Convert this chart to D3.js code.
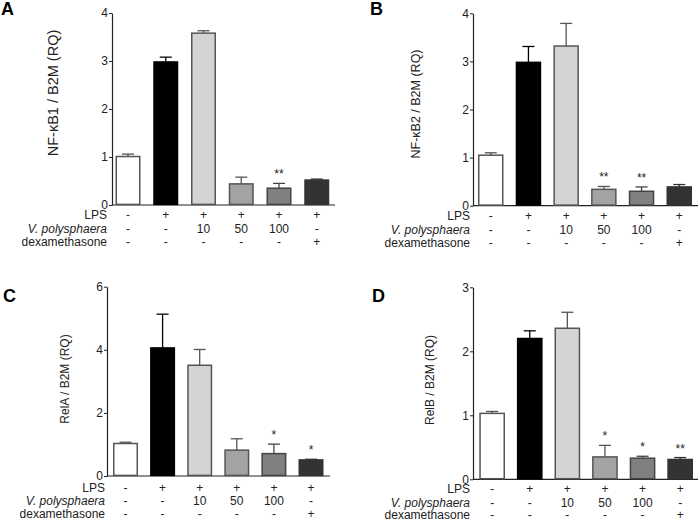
<!DOCTYPE html>
<html>
<head>
<meta charset="utf-8">
<script src="https://cdn.jsdelivr.net/npm/d3@7"></script>
<style>
  html, body { margin: 0; padding: 0; background: #fff; }
  svg { display: block; font-family: "Liberation Sans", Arial, sans-serif; }
</style>
</head>
<body>
<svg id="chart" width="700" height="521"></svg>
<script>
// ---------- data ----------
const groups = ["Control", "LPS", "VP10", "VP50", "VP100", "Dex"];
const rowLabels = ["LPS", "V. polysphaera", "dexamethasone"];
const lpsRow = ["-", "+", "+", "+", "+", "+"];
const vpRow = ["-", "-", "10", "50", "100", "-"];
const dexRow = ["-", "-", "-", "-", "-", "+"];
const barFills = ["#ffffff", "#000000", "#d4d4d4", "#a3a3a3", "#808080", "#333333"];
const barStrokes = ["#555555", "#000000", "#555555", "#555555", "#444444", "#333333"];

const nfkb1Mean = [1.01, 2.98, 3.58, 0.44, 0.35, 0.52];
const nfkb1Err  = [0.05, 0.10, 0.05, 0.14, 0.10, 0.02];
const nfkb1Sig  = ["", "", "", "", "**", ""];
const nfkb1Ticks = [0, 1, 2, 3, 4];

const nfkb2Mean = [1.05, 2.98, 3.32, 0.34, 0.30, 0.39];
const nfkb2Err  = [0.05, 0.33, 0.47, 0.06, 0.09, 0.05];
const nfkb2Sig  = ["", "", "", "**", "**", ""];
const nfkb2Ticks = [0, 1, 2, 3, 4];

const relaMean = [1.03, 4.06, 3.51, 0.82, 0.71, 0.51];
const relaErr  = [0.04, 1.07, 0.50, 0.36, 0.30, 0.02];
const relaSig  = ["", "", "", "", "*", "*"];
const relaTicks = [0, 2, 4, 6];

const relbMean = [1.03, 2.20, 2.36, 0.35, 0.33, 0.31];
const relbErr  = [0.03, 0.12, 0.25, 0.18, 0.03, 0.03];
const relbSig  = ["", "", "", "*", "*", "**"];
const relbTicks = [0, 1, 2, 3];

// ---------- layout ----------
const panels = [
  { letter: "A", title: "NF-\u03BAB1 / B2M (RQ)", mean: nfkb1Mean, err: nfkb1Err, sig: nfkb1Sig, ticks: nfkb1Ticks,
    axisX: 112, yTop: 13, y0: 205, barStart: 115.5, step: 37.75, barW: 25, axisEnd: 335,
    letterX: 1, letterY: 15, rowsY: [215, 229, 242], labelRight: 107, titleX: 53, titleY: 93, titleSize: 14.5 },
  { letter: "B", title: "NF-\u03BAB2 / B2M (RQ)", mean: nfkb2Mean, err: nfkb2Err, sig: nfkb2Sig, ticks: nfkb2Ticks,
    axisX: 473, yTop: 13.3, y0: 205.7, barStart: 478, step: 37.7, barW: 25.5, axisEnd: 698,
    letterX: 370, letterY: 15, rowsY: [216, 230, 243], labelRight: 470, titleX: 416, titleY: 104, titleSize: 12.5 },
  { letter: "C", title: "RelA / B2M (RQ)", mean: relaMean, err: relaErr, sig: relaSig, ticks: relaTicks,
    axisX: 107, yTop: 286.7, y0: 476, barStart: 113, step: 37.1, barW: 25, axisEnd: 330,
    letterX: 3, letterY: 302, rowsY: [487.7, 501, 513.5], labelRight: 105, titleX: 65, titleY: 379, titleSize: 12 },
  { letter: "D", title: "RelB / B2M (RQ)", mean: relbMean, err: relbErr, sig: relbSig, ticks: relbTicks,
    axisX: 473, yTop: 287.3, y0: 479.3, barStart: 479.3, step: 37.6, barW: 25.7, axisEnd: 698,
    letterX: 372, letterY: 302, rowsY: [489, 502.5, 515], labelRight: 470, titleX: 430, titleY: 380, titleSize: 12 }
];

const svg = d3.select("#chart");
const textColor = "#222";

panels.forEach(p => {
  const g = svg.append("g");
  const yMax = p.ticks[p.ticks.length - 1];
  const y = d3.scaleLinear().domain([0, yMax]).range([p.y0, p.yTop]);
  const pad = 1 - p.barW / p.step;
  const x = d3.scaleBand().domain(groups)
    .range([p.barStart, p.barStart + p.step * (groups.length - pad)])
    .paddingInner(pad).paddingOuter(0);

  // y axis
  const yAxis = d3.axisLeft(y).tickValues(p.ticks).tickFormat(d3.format("d"))
    .tickSize(3).tickSizeOuter(0).tickPadding(1);
  const ax = g.append("g").attr("transform", `translate(${p.axisX},0)`).call(yAxis);
  ax.select(".domain").attr("stroke", "#222").attr("stroke-width", 1.2);
  ax.selectAll(".tick line").attr("stroke", "#222");
  ax.selectAll(".tick text").attr("fill", textColor).style("font-size", "12px")
    .style("font-family", "'Liberation Sans', Arial, sans-serif");

  // x axis baseline
  g.append("line").attr("x1", p.axisX).attr("x2", p.axisEnd)
    .attr("y1", y(0)).attr("y2", y(0)).attr("stroke", "#222").attr("stroke-width", 1.2);

  // error bars (upper only)
  groups.forEach((k, i) => {
    const cx = x(k) + x.bandwidth() / 2;
    const top = y(p.mean[i] + p.err[i]);
    g.append("line").attr("x1", cx).attr("x2", cx).attr("y1", y(p.mean[i])).attr("y2", top)
      .attr("stroke", barStrokes[i]).attr("stroke-width", 1.3);
    g.append("line").attr("x1", cx - 6).attr("x2", cx + 6).attr("y1", top).attr("y2", top)
      .attr("stroke", barStrokes[i]).attr("stroke-width", 1.3);
  });

  // bars
  g.selectAll("rect.bar").data(groups).join("rect")
    .attr("class", "bar")
    .attr("x", d => x(d) + 0.75)
    .attr("width", x.bandwidth() - 1.5)
    .attr("y", (d, i) => y(p.mean[i]))
    .attr("height", (d, i) => y(0) - y(p.mean[i]) - 0.6)
    .attr("fill", (d, i) => barFills[i])
    .attr("stroke", (d, i) => barStrokes[i])
    .attr("stroke-width", 1.5);

  // significance stars
  g.selectAll("text.sig").data(groups).join("text")
    .attr("class", "sig")
    .attr("x", d => x(d) + x.bandwidth() / 2)
    .attr("y", (d, i) => y(p.mean[i] + p.err[i]) - 5)
    .attr("text-anchor", "middle")
    .attr("fill", textColor)
    .style("font-size", "12px")
    .text((d, i) => p.sig[i]);

  // treatment table
  const rows = [lpsRow, vpRow, dexRow];
  rows.forEach((row, r) => {
    g.append("text")
      .attr("x", p.labelRight).attr("y", p.rowsY[r]).attr("dy", "0.35em")
      .attr("text-anchor", "end").attr("fill", textColor)
      .style("font-size", "12px")
      .style("font-style", r === 1 ? "italic" : "normal")
      .text(rowLabels[r]);
    g.selectAll(null).data(groups).join("text")
      .attr("x", d => x(d) + x.bandwidth() / 2)
      .attr("y", p.rowsY[r]).attr("dy", "0.35em")
      .attr("text-anchor", "middle").attr("fill", textColor)
      .style("font-size", "12px")
      .text((d, i) => row[i]);
  });

  // y title
  g.append("text")
    .attr("transform", `translate(${p.titleX},${p.titleY}) rotate(-90)`)
    .attr("text-anchor", "middle").attr("dy", "0.35em")
    .attr("fill", textColor)
    .style("font-size", p.titleSize + "px")
    .text(p.title);

  // panel letter
  g.append("text")
    .attr("x", p.letterX).attr("y", p.letterY)
    .attr("fill", "#000")
    .style("font-size", "18px").style("font-weight", "bold")
    .text(p.letter);
});
</script>
</body>
</html>
